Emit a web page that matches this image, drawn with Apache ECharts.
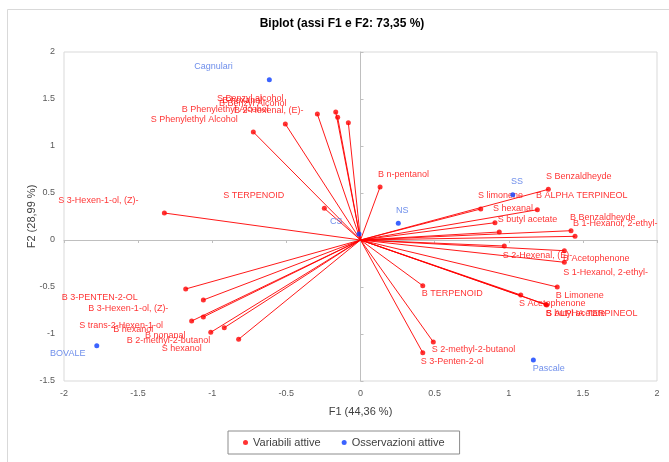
<!DOCTYPE html>
<html>
<head>
<meta charset="utf-8">
<script src="https://cdn.jsdelivr.net/npm/echarts@6/dist/echarts.min.js"></script>
<style>
html,body{margin:0;padding:0;background:#fff;}
#chart{width:669px;height:462px;}
</style>
</head>
<body>
<div id="chart"></div>
<script>
// ---- data ----
const chartTitle = 'Biplot (assi F1 e F2: 73,35 %)';
const xAxisTitle = 'F1 (44,36 %)';
const yAxisTitle = 'F2 (28,99 %)';
const xTickRange = [-2, 2, 0.5];    // min, max, interval
const yTickRange = [-1.5, 2, 0.5];

const variableNames = [
  'S Phenylethyl Alcohol', 'B Phenylethyl Alcohol', 'S Benzyl alcohol', 'B Benzyl Alcohol',
  'B 2-Hexenal, (E)-', 'B hexanal', 'S 3-Hexen-1-ol, (Z)-', 'S TERPENOID', 'B n-pentanol',
  'S Benzaldheyde', 'S limonene', 'B ALPHA TERPINEOL', 'S hexanal', 'S butyl acetate',
  'B Benzaldheyde', 'B 1-Hexanol, 2-ethyl-', 'S 2-Hexenal, (E)-', 'B Acetophenone',
  'S 1-Hexanol, 2-ethyl-', 'B TERPENOID', 'B Limonene', 'S Acetophenone', 'S ALPHA TERPINEOL',
  'B butyl acetate', 'S 2-methyl-2-butanol', 'S 3-Penten-2-ol', 'B 3-PENTEN-2-OL',
  'B 3-Hexen-1-ol, (Z)-', 'S trans-2-Hexen-1-ol', 'B hexanol', 'B nonanal',
  'B 2-methyl-2-butanol', 'S hexanol'
];
const variableF1 = [
  -0.723, -0.507, -0.291, -0.167, -0.154, -0.082, -1.323, -0.244, 0.132,
  1.267, 0.811, 1.193, 0.907, 0.936, 1.420, 1.447, 0.970, 1.375,
  1.375, 0.420, 1.327, 1.081, 1.256, 1.251, 0.491, 0.420, -1.179,
  -1.060, -1.060, -1.139, -0.919, -1.010, -0.822
];
const variableF2 = [
  1.149, 1.234, 1.340, 1.362, 1.305, 1.248, 0.287, 0.337, 0.564,
  0.539, 0.330, 0.322, 0.184, 0.085, 0.099, 0.039, -0.064, -0.114,
  -0.237, -0.486, -0.500, -0.585, -0.691, -0.686, -1.085, -1.199, -0.521,
  -0.638, -0.819, -0.862, -0.933, -0.982, -1.056
];

const observationNames = ['Cagnulari', 'CS', 'NS', 'SS', 'BOVALE', 'Pascale'];
const observationF1 = [-0.615, -0.010, 0.255, 1.027, -1.779, 1.166];
const observationF2 = [1.705, 0.064, 0.178, 0.482, -1.124, -1.277];

const legendNames = ['Variabili attive', 'Osservazioni attive'];

// ---- label placement (style: pixel offsets of each label from its point) ----
const variableLabelOffsets = [
  [-102.6, -12.7], [-103.6, -14], [-100.3, -15.7], [-116.7, -8.7],
  [-103.7, -7.3], [-126, -21.7], [-106, -13], [-101, -13], [-2, -12.7],
  [-2.3, -13.3], [-2.7, -13.3], [-1.3, -14], [-2, -13.7], [-1.6, -12],
  [-1, -13.4], [-2, -13], [-1.6, 9.7], [-1.3, 8],
  [-1, 10], [-1, 8.3], [-1.6, 8.7], [-1.7, 8.3], [-0.7, 8.3],
  [-0.2, 8.8], [-1.6, 8], [-2, 9], [-124, 8.7],
  [-115, 8.7], [-124, 9], [-78.4, 8.3], [-79.3, 8.3],
  [-84, 8.4], [-77, 9]
];
const observationLabelOffsets = [
  [-75, -13], [-29, -12.3], [-2.3, -12.3], [-1.7, -13], [-46.7, 8.3], [-0.6, 8.3]
];

const RED = '#ff0000';
const LINE_RED = '#ff0000';
const BLUE_DOT = '#0a3cff';
const BLUE_TXT = '#4a72e6';
const FONT = 'Liberation Sans, Arial, sans-serif';

function makePoints(names, xs, ys, offsets, color) {
  return names.map((n, i) => ({
    name: n,
    value: [xs[i], ys[i]],
    label: {
      show: true,
      formatter: n,
      position: 'inside',
      align: 'left',
      verticalAlign: 'middle',
      offset: offsets[i],
      color: color,
      fontSize: 9,
      fontFamily: FONT,
      textBorderColor: 'transparent',
      textBorderWidth: 0
    }
  }));
}

const chart = echarts.init(document.getElementById('chart'), null, {renderer: 'canvas'});

const axisCommonLabel = {color: '#595959', fontSize: 9, fontFamily: FONT};

const option = {
  backgroundColor: '#fff',
  animation: false,
  graphic: [{
    type: 'rect', z: -10, silent: true,
    shape: {x: 7.5, y: 9.5, width: 700, height: 480},
    style: {fill: 'none', stroke: '#d9d9d9', lineWidth: 1}
  }],
  title: {
    text: chartTitle,
    left: 342, top: 18, textAlign: 'center', padding: 0,
    textStyle: {fontSize: 12, fontWeight: 'bold', color: '#000', fontFamily: FONT}
  },
  legend: {
    data: legendNames,
    left: 228, top: 431,
    padding: [6, 15],
    itemGap: 21,
    itemWidth: 5, itemHeight: 5,
    icon: 'circle',
    borderColor: '#8c8c8c', borderWidth: 1,
    textStyle: {fontSize: 11, color: '#404040', fontFamily: FONT, padding: [0, 0, 0, 0]}
  },
  grid: {
    left: 64, right: 12, top: 52, bottom: 81,
    show: true, borderColor: '#d9d9d9', borderWidth: 1
  },
  xAxis: [{
    type: 'value', min: xTickRange[0], max: xTickRange[1], interval: xTickRange[2],
    position: 'bottom',
    axisLine: {show: false, onZero: false},
    axisTick: {show: false},
    splitLine: {show: false},
    axisLabel: Object.assign({margin: 8}, axisCommonLabel),
    name: xAxisTitle, nameLocation: 'middle', nameGap: 25,
    nameMoveOverlap: false,
    nameTextStyle: {fontSize: 11, color: '#404040', fontFamily: FONT}
  }, {
    type: 'value', min: xTickRange[0], max: xTickRange[1], interval: xTickRange[2],
    position: 'bottom',
    axisLine: {show: true, onZero: true, onZeroAxisIndex: 0, lineStyle: {color: '#bfbfbf', width: 1}},
    axisTick: {show: true, length: 3, lineStyle: {color: '#bfbfbf'}},
    splitLine: {show: false},
    axisLabel: {show: false}
  }],
  yAxis: [{
    type: 'value', min: yTickRange[0], max: yTickRange[1], interval: yTickRange[2],
    position: 'left',
    axisLine: {show: false, onZero: false},
    axisTick: {show: false},
    splitLine: {show: false},
    axisLabel: Object.assign({margin: 9}, axisCommonLabel),
    name: yAxisTitle, nameLocation: 'middle', nameGap: 27,
    nameMoveOverlap: false,
    nameTextStyle: {fontSize: 11, color: '#404040', fontFamily: FONT}
  }, {
    type: 'value', min: yTickRange[0], max: yTickRange[1], interval: yTickRange[2],
    position: 'right',
    axisLine: {show: true, onZero: true, onZeroAxisIndex: 0, lineStyle: {color: '#bfbfbf', width: 1}},
    axisTick: {show: true, length: 3, lineStyle: {color: '#bfbfbf'}},
    splitLine: {show: false},
    axisLabel: {show: false}
  }],
  series: [{
    name: legendNames[0],
    type: 'scatter',
    xAxisIndex: 0, yAxisIndex: 0,
    symbol: 'circle', symbolSize: 5,
    itemStyle: {color: RED},
    z: 3,
    data: makePoints(variableNames, variableF1, variableF2, variableLabelOffsets, RED)
  }, {
    name: legendNames[1],
    type: 'scatter',
    xAxisIndex: 0, yAxisIndex: 0,
    symbol: 'circle', symbolSize: 5,
    itemStyle: {color: BLUE_DOT},
    z: 4,
    data: makePoints(observationNames, observationF1, observationF2, observationLabelOffsets, BLUE_TXT)
  }, {
    // variable vectors: origin -> each variable point
    type: 'custom',
    xAxisIndex: 0, yAxisIndex: 0,
    silent: true,
    z: 1,
    emphasis: {disabled: true},
    data: variableF1.map((x, i) => [x, variableF2[i]]),
    renderItem: function (params, api) {
      const o = api.coord([0, 0]);
      const p = api.coord([api.value(0), api.value(1)]);
      return {
        type: 'line',
        shape: {x1: o[0], y1: o[1], x2: p[0], y2: p[1]},
        style: {stroke: LINE_RED, lineWidth: 1, fill: null, opacity: 0.9}
      };
    }
  }]
};
chart.setOption(option);
</script>
</body>
</html>
